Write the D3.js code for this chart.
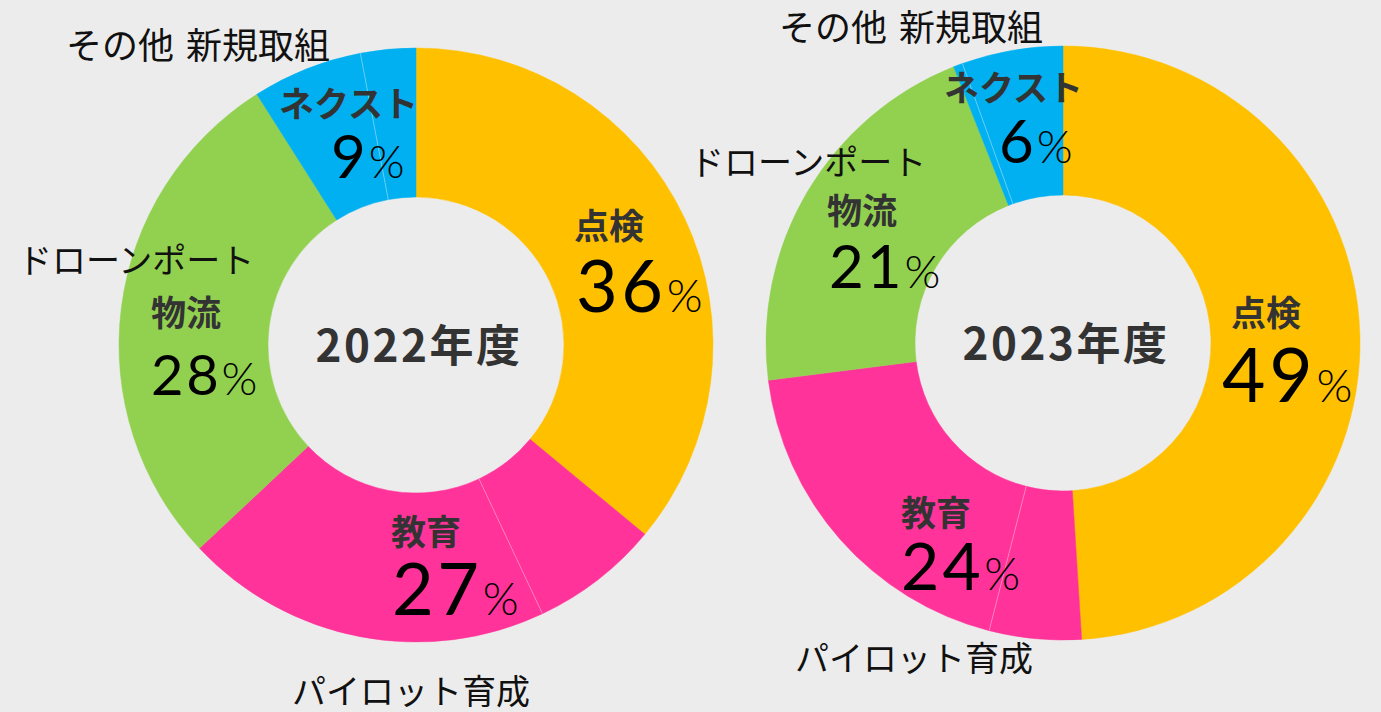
<!DOCTYPE html>
<html>
<head>
<meta charset="utf-8">
<script src="https://cdn.jsdelivr.net/npm/d3@7"></script>
<style>
  html, body { margin: 0; padding: 0; background: #ececec; }
  svg { display: block; }
  .jp { font-family: "Noto Sans CJK JP", "Noto Sans", sans-serif; }
  .num { font-family: Lato, "Noto Sans", sans-serif; }
</style>
</head>
<body>
<div id="chart"></div>
<script>
// categories, clockwise from 12 o'clock
var categories = ["点検", "パイロット育成", "教育", "ドローンポート物流", "その他 新規取組", "ネクスト"];
var values2022 = [36, 7, 20, 28, 6, 3];
var values2023 = [49, 5, 19, 21, 0.5, 5.5];
var years = ["2022年度", "2023年度"];

// grouped labels shown inside the ring
var groupNames = ["点検", "教育", "物流", "ネクスト"];
var groupPct2022 = ["36", "27", "28", "9"];
var groupPct2023 = ["49", "24", "21", "6"];

var colors = ["#FFC000", "#FF3399", "#FF3399", "#92D050", "#00B0F0", "#00B0F0"];

var width = 1381, height = 712;
var outerR = 297, innerR = 148;

var svg = d3.select("#chart").append("svg")
    .attr("width", width)
    .attr("height", height);

// light background
svg.append("rect")
    .attr("width", width)
    .attr("height", height)
    .attr("fill", "#ececec");

var color = d3.scaleOrdinal().domain(categories).range(colors);

var pie = d3.pie().sort(null).value(function (d) { return d.value; });
var arc = d3.arc().innerRadius(innerR).outerRadius(outerR);

// label layout per donut (offsets from the centre)
var layouts = [
    {
        cx: 416, cy: 345,
        names: [[158, -122], [-25, 184], [-265, -35], [-137, -244]],
        pcts: [[160, -33, 72], [-24, 270, 72], [-265, 50, 56], [-85, -167, 60]],
        outer: [[-350, -302, "その他 新規取組", 36], [-398, -87, "ドローンポート", 34], [-124, 344, "パイロット育成", 34]]
    },
    {
        cx: 1063, cy: 343,
        names: [[168, -33], [-162, 167], [-236, -135], [-119, -258]],
        pcts: [[159, 59, 75], [-162, 247, 66], [-234, -55, 60], [-64, -180, 60]],
        outer: [[-284, -318, "その他 新規取組", 36], [-373, -183, "ドローンポート", 34], [-268, 313, "パイロット育成", 34]]
    }
];

function drawDonut(values, pcts, year, lay) {
    var data = categories.map(function (c, i) { return { name: c, value: values[i] }; });
    var arcs = pie(data);
    var g = svg.append("g").attr("transform", "translate(" + lay.cx + "," + lay.cy + ")");

    g.selectAll("path.slice")
        .data(arcs)
        .enter()
        .append("path")
        .attr("class", "slice")
        .attr("d", arc)
        .attr("fill", function (d) { return color(d.data.name); })
        .attr("stroke", function (d) { return color(d.data.name); })
        .attr("stroke-width", 0.5);

    // faint seam between slices that share a colour
    g.selectAll("line.seam")
        .data(arcs.filter(function (d, i) {
            return i > 0 && colors[i] === colors[i - 1];
        }))
        .enter()
        .append("line")
        .attr("class", "seam")
        .attr("x1", function (d) { return innerR * Math.sin(d.startAngle); })
        .attr("y1", function (d) { return -innerR * Math.cos(d.startAngle); })
        .attr("x2", function (d) { return outerR * Math.sin(d.startAngle); })
        .attr("y2", function (d) { return -outerR * Math.cos(d.startAngle); })
        .attr("stroke", "rgba(255,255,255,0.45)")
        .attr("stroke-width", 0.8);

    // year in the hole
    g.append("text")
        .attr("class", "jp")
        .attr("x", 3)
        .attr("y", -2)
        .attr("text-anchor", "middle")
        .attr("dominant-baseline", "central")
        .attr("font-size", 44)
        .attr("font-weight", 700)
        .attr("letter-spacing", 2.5)
        .attr("fill", "#333")
        .text(year);

    // group names
    g.selectAll("text.gname")
        .data(groupNames)
        .enter()
        .append("text")
        .attr("class", "gname jp")
        .attr("x", function (d, i) { return lay.names[i][0]; })
        .attr("y", function (d, i) { return lay.names[i][1]; })
        .attr("dominant-baseline", "central")
        .attr("font-size", 35)
        .attr("font-weight", 700)
        .attr("fill", "#333")
        .text(function (d) { return d; });

    // big percentages
    var pt = g.selectAll("text.pct")
        .data(pcts)
        .enter()
        .append("text")
        .attr("class", "pct num")
        .attr("x", function (d, i) { return lay.pcts[i][0]; })
        .attr("y", function (d, i) { return lay.pcts[i][1]; })
        .attr("fill", "#000");
    pt.append("tspan")
        .attr("font-size", function (d, i) { return lay.pcts[i][2]; })
        .attr("letter-spacing", function (d, i) { return lay.pcts[i][2] * 0.05; })
        .text(function (d) { return d; });
    pt.append("tspan")
        .attr("font-size", 46)
        .attr("font-weight", 300)
        .text("%");

    // labels outside the ring
    g.selectAll("text.outer")
        .data(lay.outer)
        .enter()
        .append("text")
        .attr("class", "outer jp")
        .attr("x", function (d) { return d[0]; })
        .attr("y", function (d) { return d[1]; })
        .attr("dominant-baseline", "central")
        .attr("font-size", function (d) { return d[3]; })
        .attr("word-spacing", 4)
        .attr("fill", "#111")
        .text(function (d) { return d[2]; });
}

drawDonut(values2022, groupPct2022, years[0], layouts[0]);
drawDonut(values2023, groupPct2023, years[1], layouts[1]);
</script>
</body>
</html>
